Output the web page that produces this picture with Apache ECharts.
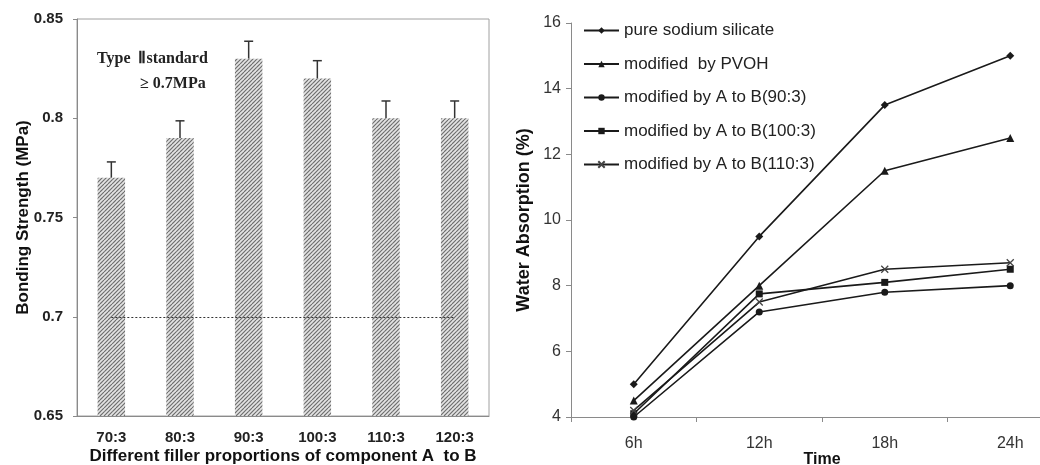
<!DOCTYPE html>
<html>
<head>
<meta charset="utf-8">
<script src="https://cdn.jsdelivr.net/npm/echarts@6/dist/echarts.min.js"></script>
<style>
  html, body { margin: 0; padding: 0; background: #fff; overflow: hidden; }
  #chart { width: 1040px; height: 465px; }
</style>
</head>
<body>
<div id="chart"></div>
<script>
// left: bonding strength
var ratios = ["70:3", "80:3", "90:3", "100:3", "110:3", "120:3"];
var strength = [0.77, 0.79, 0.83, 0.82, 0.80, 0.80];
var strengthErr = [0.008, 0.0087, 0.0088, 0.009, 0.0087, 0.0087];
var standardLine = 0.7;
var strengthTicks = { min: 0.65, max: 0.85, step: 0.05 };

// right: water absorption
var times = ["6h", "12h", "18h", "24h"];
var pureSilicate = [5.0, 9.5, 13.5, 15.0];
var pvoh = [4.5, 8.0, 11.5, 12.5];
var ab90 = [4.0, 7.2, 7.8, 8.0];
var ab100 = [4.1, 7.75, 8.1, 8.5];
var ab110 = [4.2, 7.5, 8.5, 8.7];
var absorbTicks = { min: 4, max: 16, step: 2 };

// hatch fill for the bars
function hatch() {
  var c = document.createElement("canvas");
  c.width = 8; c.height = 8;
  var g = c.getContext("2d");
  g.fillStyle = "#e4e4e4";
  g.fillRect(0, 0, 8, 8);
  g.strokeStyle = "#6e6e6e";
  g.lineWidth = 1.2;
  for (var k = -8; k <= 16; k += 4) {
    g.beginPath();
    g.moveTo(k, 8);
    g.lineTo(k + 8, 0);
    g.stroke();
  }
  return c;
}

var errData = ratios.map(function (r, i) {
  return [i, strength[i], strength[i] + strengthErr[i]];
});

var crossPath = "path://M0,0L10,10M10,0L0,10";
var lineStyle = { color: "#1a1a1a", width: 1.6 };

var sans = "Liberation Sans";
var chart = echarts.init(document.getElementById("chart"));
chart.setOption({
  animation: false,
  textStyle: { fontFamily: sans },
  grid: [
    { left: 77, top: 19, width: 412, height: 397, show: true, borderColor: "#a0a0a0", borderWidth: 1,
      outerBoundsMode: "none", containLabel: false },
    { left: 571, top: 23, width: 502, height: 394, outerBoundsMode: "none", containLabel: false }
  ],
  legend: {
    orient: "vertical",
    left: 578,
    top: 17,
    itemWidth: 35,
    itemHeight: 8,
    itemGap: 16.5,
    textStyle: { fontSize: 17, color: "#222", fontFamily: sans },
    data: ["pure sodium silicate", "modified  by PVOH", "modified by A to B(90:3)",
           "modified by A to B(100:3)", "modified by A to B(110:3)"]
  },
  graphic: [
    { type: "text", left: 97, top: 51, style: { text: "Type  \u2161standard", font: "bold 16px 'Liberation Serif'", fill: "#222" } },
    { type: "text", left: 140, top: 76, style: { text: "\u2265 0.7MPa", font: "bold 16px 'Liberation Serif'", fill: "#222" } }
  ],
  xAxis: [
    {
      gridIndex: 0,
      type: "category",
      data: ratios,
      name: "Different filler proportions of component A  to B",
      nameLocation: "middle",
      nameGap: 32,
      nameMoveOverlap: false,
      nameTextStyle: { fontSize: 17, fontWeight: "bold", color: "#111" },
      axisLine: { lineStyle: { color: "#8a8a8a" } },
      axisTick: { show: false },
      axisLabel: { fontSize: 15, fontWeight: "bold", color: "#222", margin: 14 }
    },
    {
      gridIndex: 1,
      type: "category",
      data: times,
      name: "Time",
      nameLocation: "middle",
      nameGap: 35,
      nameMoveOverlap: false,
      nameTextStyle: { fontSize: 16, fontWeight: "bold", color: "#111" },
      axisLine: { lineStyle: { color: "#8a8a8a" } },
      axisTick: { show: true, length: 5, lineStyle: { color: "#8a8a8a" } },
      axisLabel: { fontSize: 16, color: "#333", margin: 19 }
    }
  ],
  yAxis: [
    {
      gridIndex: 0,
      type: "value",
      min: strengthTicks.min,
      max: strengthTicks.max,
      interval: strengthTicks.step,
      name: "Bonding Strength (MPa)",
      nameLocation: "middle",
      nameGap: 45,
      nameMoveOverlap: false,
      nameTextStyle: { fontSize: 17, fontWeight: "bold", color: "#111" },
      axisLine: { show: true, lineStyle: { color: "#8a8a8a" } },
      axisTick: { show: true, length: 4, lineStyle: { color: "#8a8a8a" } },
      splitLine: { show: false },
      axisLabel: { fontSize: 15, fontWeight: "bold", color: "#222", margin: 14 }
    },
    {
      gridIndex: 1,
      type: "value",
      min: absorbTicks.min,
      max: absorbTicks.max,
      interval: absorbTicks.step,
      name: "Water Absorption (%)",
      nameLocation: "middle",
      nameGap: 38,
      nameMoveOverlap: false,
      nameTextStyle: { fontSize: 18, fontWeight: "bold", color: "#111" },
      axisLine: { show: true, lineStyle: { color: "#8a8a8a" } },
      axisTick: { show: true, length: 5, lineStyle: { color: "#8a8a8a" } },
      splitLine: { show: false },
      axisLabel: { fontSize: 16, color: "#333", margin: 10 }
    }
  ],
  series: [
    {
      type: "bar",
      xAxisIndex: 0,
      yAxisIndex: 0,
      data: strength,
      barWidth: "40%",
      itemStyle: { color: { image: hatch(), repeat: "repeat" } },
      markLine: {
        symbol: "none",
        silent: true,
        label: { show: false },
        lineStyle: { color: "#333", type: [2, 2], width: 1.2 },
        data: [[{ coord: [ratios[0], standardLine] }, { coord: [ratios[ratios.length - 1], standardLine] }]]
      }
    },
    {
      type: "custom",
      xAxisIndex: 0,
      yAxisIndex: 0,
      data: errData,
      renderItem: function (params, api) {
        var base = api.coord([api.value(0), api.value(1)]);
        var top = api.coord([api.value(0), api.value(2)]);
        var st = { stroke: "#333", lineWidth: 1.5 };
        return {
          type: "group",
          children: [
            { type: "line", shape: { x1: base[0], y1: base[1], x2: top[0], y2: top[1] }, style: st },
            { type: "line", shape: { x1: top[0] - 4.5, y1: top[1], x2: top[0] + 4.5, y2: top[1] }, style: st }
          ]
        };
      }
    },
    { name: "pure sodium silicate", type: "line", xAxisIndex: 1, yAxisIndex: 1, data: pureSilicate,
      symbol: "diamond", symbolSize: 8, lineStyle: lineStyle, itemStyle: { color: "#1a1a1a" } },
    { name: "modified  by PVOH", type: "line", xAxisIndex: 1, yAxisIndex: 1, data: pvoh,
      symbol: "triangle", symbolSize: 8, lineStyle: lineStyle, itemStyle: { color: "#1a1a1a" } },
    { name: "modified by A to B(90:3)", type: "line", xAxisIndex: 1, yAxisIndex: 1, data: ab90,
      symbol: "circle", symbolSize: 7, lineStyle: lineStyle, itemStyle: { color: "#1a1a1a" } },
    { name: "modified by A to B(100:3)", type: "line", xAxisIndex: 1, yAxisIndex: 1, data: ab100,
      symbol: "rect", symbolSize: 7, lineStyle: lineStyle, itemStyle: { color: "#1a1a1a" } },
    { name: "modified by A to B(110:3)", type: "line", xAxisIndex: 1, yAxisIndex: 1, data: ab110,
      symbol: crossPath, symbolSize: 7, lineStyle: lineStyle,
      itemStyle: { color: "none", borderColor: "#444", borderWidth: 1.3 } }
  ]
});
</script>
</body>
</html>
